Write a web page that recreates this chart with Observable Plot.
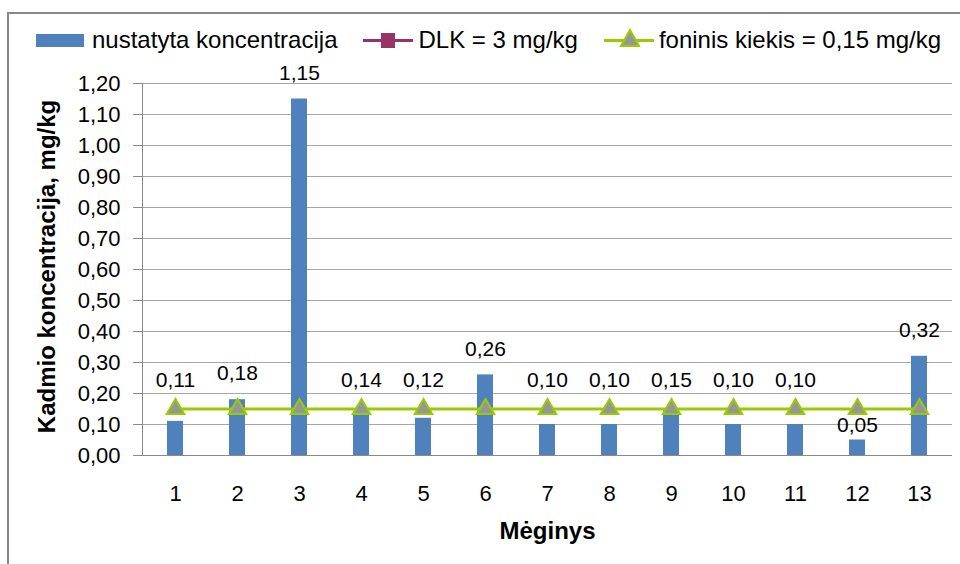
<!DOCTYPE html>
<html>
<head>
<meta charset="utf-8">
<script src="https://cdn.jsdelivr.net/npm/d3@7"></script>
<script src="https://cdn.jsdelivr.net/npm/@observablehq/plot@0.6"></script>
<style>
  html, body { margin: 0; padding: 0; background: #fff; }
  body { width: 960px; height: 564px; overflow: hidden; position: relative; font-family: "Liberation Sans", Arial, sans-serif; }
  #frame { position: absolute; left: 7px; top: 12px; width: 1000px; height: 600px; border: 2px solid #878787; box-sizing: border-box; }
  #legend { position: relative; width: 1100px; height: 60px; display: flex; align-items: center; padding-left: 36px; padding-top: 20px; box-sizing: border-box; font-size: 24px; color: #000; white-space: nowrap; }
  .item { display: flex; align-items: center; margin-right: 26px; flex-shrink: 0; }
  .sw { width: 48px; height: 13px; background: #4F81BD; margin-right: 8px; flex-shrink: 0; }
  .ln { width: 50px; height: 3px; position: relative; margin-right: 5px; flex-shrink: 0; }
  .sq { position: absolute; left: 18px; top: -6px; width: 14px; height: 15px; }
  .tri { position: absolute; left: 15px; top: -11px; }
  #chart { position: relative; }
</style>
</head>
<body>
<div id="frame"></div>
<div id="legend"></div>
<div id="chart"></div>
<script>
// Data
const samples = ["1","2","3","4","5","6","7","8","9","10","11","12","13"];
const values = [0.11, 0.18, 1.15, 0.14, 0.12, 0.26, 0.10, 0.10, 0.15, 0.10, 0.10, 0.05, 0.32];
const background = 0.15;       // foninis kiekis
const dlk = 3;                  // DLK (off the y range, legend only)
const yTicks = [0, 0.1, 0.2, 0.3, 0.4, 0.5, 0.6, 0.7, 0.8, 0.9, 1.0, 1.1, 1.2];
const seriesNames = ["nustatyta koncentracija", "DLK = 3 mg/kg", "foninis kiekis = 0,15 mg/kg"];
const yLabel = "Kadmio koncentracija, mg/kg";
const xLabel = "Mėginys";

const barColor = "#4F81BD", dlkColor = "#993366", bgColor = "#99CC00", triFill = "#969696";

const data = samples.map((s, i) => ({s, v: values[i]}));
const lineData = samples.map(s => ({s, v: background}));
const fmt = d => d.toFixed(2).replace(".", ",");

// Legend
const legend = document.getElementById("legend");
legend.innerHTML = `
  <div class="item"><div class="sw"></div><span>${seriesNames[0]}</span></div>
  <div class="item"><div class="ln" style="background:${dlkColor}"><div class="sq" style="background:${dlkColor}"></div></div><span>${seriesNames[1]}</span></div>
  <div class="item"><div class="ln" style="background:${bgColor}"><svg class="tri" width="22" height="22"><path d="M11,2 L20,18 L2,18 Z" fill="${triFill}" stroke="${bgColor}" stroke-width="2"/></svg></div><span>${seriesNames[2]}</span></div>
`;

const chart = Plot.plot({
  width: 960,
  height: 504,
  marginTop: 23,
  marginBottom: 109,
  marginLeft: 142,
  marginRight: 8,
  style: {fontFamily: "'Liberation Sans', Arial, sans-serif", color: "#000", background: "transparent"},
  x: {type: "band", domain: samples, paddingInner: 0.743, paddingOuter: 0.3715, label: null},
  y: {domain: [0, 1.2], label: null},
  marks: [
    Plot.gridY(yTicks, {stroke: "#a6a6a6", strokeOpacity: 1, strokeWidth: 1}),
    Plot.axisY(yTicks, {tickSize: 9, tickPadding: 13, tickFormat: fmt, fontSize: 22, stroke: "#888", label: null}),
    Plot.axisX({tickSize: 0, tickPadding: 30, fontSize: 22, label: null}),
    Plot.barY(data, {x: "s", y: "v", fill: barColor}),
    Plot.ruleY([0], {stroke: "#888", strokeWidth: 1}),
    Plot.frame({anchor: "left", stroke: "#888"}),
    Plot.lineY(lineData, {x: "s", y: "v", stroke: bgColor, strokeWidth: 3}),
    Plot.dot(lineData, {x: "s", y: "v", symbol: "triangle", r: 6.5, fill: triFill, stroke: bgColor, strokeWidth: 2}),
    Plot.text(data.filter(d => d.v >= 0.08), {
      x: "s", y: d => Math.max(d.v, 0.16), dy: -26,
      text: d => fmt(d.v), fontSize: 21, fill: "#000", letterSpacing: "1px"
    }),
    Plot.text(data.filter(d => d.v < 0.08), {
      x: "s", y: "v", dy: -15,
      text: d => fmt(d.v), fontSize: 21, fill: "#000", letterSpacing: "1px"
    }),
    Plot.text([xLabel], {frameAnchor: "bottom", dy: 83, text: d => d, fontSize: 24, fontWeight: "bold", fill: "#000"}),
    Plot.text([yLabel], {frameAnchor: "left", textAnchor: "middle", dx: -95, dy: -3, rotate: -90, text: d => d, fontSize: 24, fontWeight: "bold", fill: "#000"})
  ]
});
document.getElementById("chart").appendChild(chart);
</script>
</body>
</html>
